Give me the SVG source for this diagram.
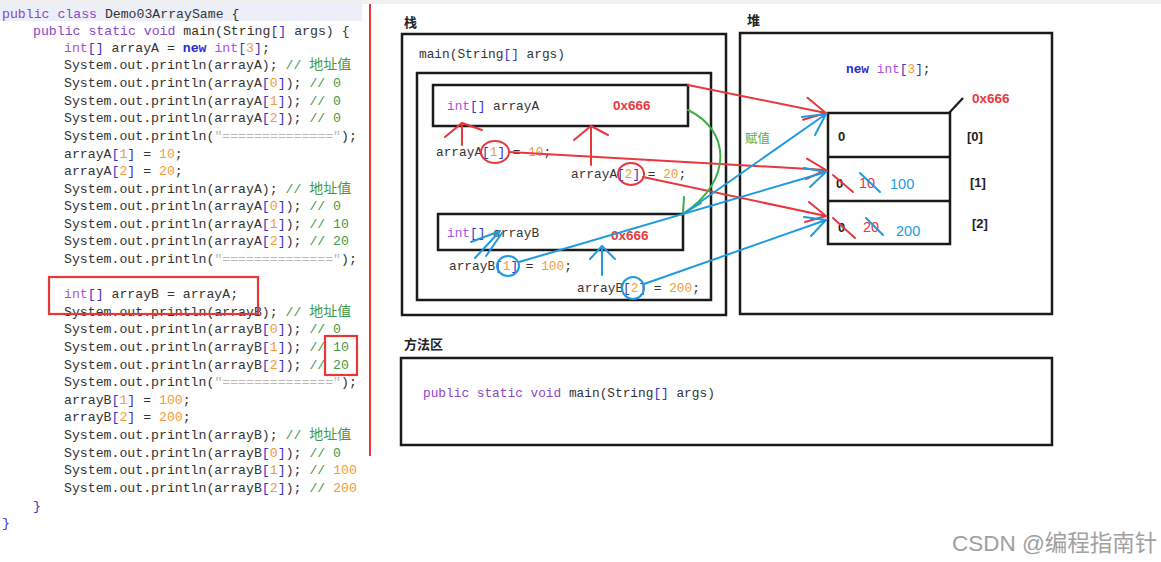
<svg xmlns="http://www.w3.org/2000/svg" width="1161" height="562" viewBox="0 0 1161 562">
<style>
.code{font-family:"Liberation Mono","DejaVu Sans Mono",monospace;font-size:13.2px;fill:#333;white-space:pre}
.dc{font-family:"Liberation Mono","DejaVu Sans Mono",monospace;font-size:12.8px;fill:#333;white-space:pre}
.kw{fill:#8b45c6}
.ty{fill:#a552e0}
.nw{fill:#2b2bd1;font-weight:bold}
.br{fill:#3535c0}
.num{fill:#f29b38}
.cm{fill:#3f9a48}
.str{fill:#b8b8b8}
.cjk{font-family:"Noto Sans CJK SC",sans-serif;font-size:14px}
.lbl{font-family:"Noto Sans CJK SC",sans-serif;font-size:13px;font-weight:bold;fill:#222}
.box{fill:none;stroke:#1a1a1a;stroke-width:2.5}
.addr{font-family:"Liberation Sans",Arial,sans-serif;font-size:13.5px;font-weight:bold;fill:#e8383d}
.val{font-family:"Liberation Sans",Arial,sans-serif;font-size:13px;font-weight:bold;fill:#222}
.blu{font-family:"Liberation Sans",Arial,sans-serif;font-size:14.5px;fill:#1e9be0}
.redt{font-family:"Liberation Sans",Arial,sans-serif;font-size:14.5px;fill:#e8383d}
.r{fill:none;stroke:#e8383d;stroke-width:2;stroke-linecap:round}
.b{fill:none;stroke:#1e9be0;stroke-width:2;stroke-linecap:round}
.g{fill:none;stroke:#3cb043;stroke-width:2;stroke-linecap:round}
</style>
<rect x="0" y="0" width="1161" height="562" fill="#ffffff"/>
<rect x="0" y="0" width="1161" height="4" fill="#f0f0f0"/>

<g id="code-panel">
<rect x="0" y="4" width="362" height="17" fill="#eceff8"/>
<line x1="370" y1="4" x2="370" y2="456" stroke="#e53935" stroke-width="2"/>
<text class="code" x="2" y="17.5"><tspan class="kw">public class</tspan> Demo03ArraySame {</text>
<text class="code" x="33" y="35"><tspan class="kw">public static void</tspan> main(String<tspan class="br">[]</tspan> args) {</text>
<text class="code" x="64" y="52"><tspan class="ty">int</tspan><tspan class="br">[]</tspan> arrayA = <tspan class="nw">new</tspan> <tspan class="ty">int</tspan><tspan class="br">[</tspan><tspan class="num">3</tspan><tspan class="br">]</tspan>;</text>
<text class="code" x="64" y="69">System.out.println(arrayA); <tspan class="cm">// <tspan class="cjk">地址值</tspan></tspan></text>
<text class="code" x="64" y="87">System.out.println(arrayA<tspan class="br">[</tspan><tspan class="num">0</tspan><tspan class="br">]</tspan>); <tspan class="cm">// 0</tspan></text>
<text class="code" x="64" y="105">System.out.println(arrayA<tspan class="br">[</tspan><tspan class="num">1</tspan><tspan class="br">]</tspan>); <tspan class="cm">// 0</tspan></text>
<text class="code" x="64" y="122">System.out.println(arrayA<tspan class="br">[</tspan><tspan class="num">2</tspan><tspan class="br">]</tspan>); <tspan class="cm">// 0</tspan></text>
<text class="code" x="64" y="140">System.out.println(<tspan class="str">"=============="</tspan>);</text>
<text class="code" x="64" y="158">arrayA<tspan class="br">[</tspan><tspan class="num">1</tspan><tspan class="br">]</tspan> = <tspan class="num">10</tspan>;</text>
<text class="code" x="64" y="175">arrayA<tspan class="br">[</tspan><tspan class="num">2</tspan><tspan class="br">]</tspan> = <tspan class="num">20</tspan>;</text>
<text class="code" x="64" y="193">System.out.println(arrayA); <tspan class="cm">// <tspan class="cjk">地址值</tspan></tspan></text>
<text class="code" x="64" y="210">System.out.println(arrayA<tspan class="br">[</tspan><tspan class="num">0</tspan><tspan class="br">]</tspan>); <tspan class="cm">// 0</tspan></text>
<text class="code" x="64" y="228">System.out.println(arrayA<tspan class="br">[</tspan><tspan class="num">1</tspan><tspan class="br">]</tspan>); <tspan class="cm">// 10</tspan></text>
<text class="code" x="64" y="245">System.out.println(arrayA<tspan class="br">[</tspan><tspan class="num">2</tspan><tspan class="br">]</tspan>); <tspan class="cm">// 20</tspan></text>
<text class="code" x="64" y="263">System.out.println(<tspan class="str">"=============="</tspan>);</text>
<text class="code" x="64" y="298"><tspan class="ty">int</tspan><tspan class="br">[]</tspan> arrayB = arrayA;</text>
<text class="code" x="64" y="316">System.out.println(arrayB); <tspan class="cm">// <tspan class="cjk">地址值</tspan></tspan></text>
<text class="code" x="64" y="333">System.out.println(arrayB<tspan class="br">[</tspan><tspan class="num">0</tspan><tspan class="br">]</tspan>); <tspan class="cm">// 0</tspan></text>
<text class="code" x="64" y="351">System.out.println(arrayB<tspan class="br">[</tspan><tspan class="num">1</tspan><tspan class="br">]</tspan>); <tspan class="cm">// 10</tspan></text>
<text class="code" x="64" y="369">System.out.println(arrayB<tspan class="br">[</tspan><tspan class="num">2</tspan><tspan class="br">]</tspan>); <tspan class="cm">// 20</tspan></text>
<text class="code" x="64" y="386">System.out.println(<tspan class="str">"=============="</tspan>);</text>
<text class="code" x="64" y="404">arrayB<tspan class="br">[</tspan><tspan class="num">1</tspan><tspan class="br">]</tspan> = <tspan class="num">100</tspan>;</text>
<text class="code" x="64" y="421">arrayB<tspan class="br">[</tspan><tspan class="num">2</tspan><tspan class="br">]</tspan> = <tspan class="num">200</tspan>;</text>
<text class="code" x="64" y="439">System.out.println(arrayB); <tspan class="cm">// <tspan class="cjk">地址值</tspan></tspan></text>
<text class="code" x="64" y="457">System.out.println(arrayB<tspan class="br">[</tspan><tspan class="num">0</tspan><tspan class="br">]</tspan>); <tspan class="cm">// 0</tspan></text>
<text class="code" x="64" y="474">System.out.println(arrayB<tspan class="br">[</tspan><tspan class="num">1</tspan><tspan class="br">]</tspan>); <tspan class="cm">// </tspan><tspan class="num">100</tspan></text>
<text class="code" x="64" y="492">System.out.println(arrayB<tspan class="br">[</tspan><tspan class="num">2</tspan><tspan class="br">]</tspan>); <tspan class="cm">// </tspan><tspan class="num">200</tspan></text>
<text class="code br" x="33" y="510">}</text>
<text class="code br" x="2" y="527">}</text>
<rect x="49" y="277" width="209" height="37" fill="none" stroke="#e53935" stroke-width="2.2"/>
<rect x="325" y="336" width="32" height="39" fill="none" stroke="#e53935" stroke-width="2.2"/>
</g>

<g id="stack">
<text class="lbl" x="404" y="27">栈</text>
<rect class="box" x="402" y="34" width="324" height="281"/>
<text class="dc" x="419" y="58">main(String<tspan class="br">[]</tspan> args)</text>
<rect class="box" x="417" y="73" width="294" height="227"/>
</g>

<g id="arrayA-var">
<rect class="box" x="433" y="85" width="255" height="41"/>
<text class="dc" x="447" y="110"><tspan class="ty">int</tspan><tspan class="br">[]</tspan> arrayA</text>
<text class="addr" x="613" y="110">0x666</text>
</g>

<g id="arrayB-var">
<rect class="box" x="438" y="214" width="245" height="36"/>
<text class="dc" x="447" y="237"><tspan class="ty">int</tspan><tspan class="br">[]</tspan> arrayB</text>
<text class="addr" x="611" y="240">0x666</text>
</g>

<g id="stack-statements">
<text class="dc" x="436" y="156">arrayA<tspan class="br">[</tspan><tspan class="num">1</tspan><tspan class="br">]</tspan> = <tspan class="num">10</tspan>;</text>
<text class="dc" x="571" y="178">arrayA<tspan class="br">[</tspan><tspan class="num">2</tspan><tspan class="br">]</tspan> = <tspan class="num">20</tspan>;</text>
<text class="dc" x="449" y="270">arrayB<tspan class="br">[</tspan><tspan class="num">1</tspan><tspan class="br">]</tspan> = <tspan class="num">100</tspan>;</text>
<text class="dc" x="577" y="292">arrayB<tspan class="br">[</tspan><tspan class="num">2</tspan><tspan class="br">]</tspan> = <tspan class="num">200</tspan>;</text>
</g>

<g id="heap">
<text class="lbl" x="747" y="25">堆</text>
<rect class="box" x="740" y="33" width="312" height="281"/>
<text class="dc" x="846" y="73"><tspan class="nw">new</tspan> <tspan class="ty">int</tspan><tspan class="br">[</tspan><tspan class="num">3</tspan><tspan class="br">]</tspan>;</text>
<text class="addr" x="972" y="103">0x666</text>
<line x1="949" y1="113" x2="963" y2="98" stroke="#1a1a1a" stroke-width="2.2"/>
<text x="745" y="143" font-family="'Noto Sans CJK SC',sans-serif" font-size="12.5px" fill="#4caf50">赋值</text>
</g>

<g id="heap-array">
<rect class="box" x="828" y="113" width="122" height="131"/>
<line x1="828" y1="157" x2="950" y2="157" stroke="#1a1a1a" stroke-width="2.5"/>
<line x1="828" y1="201" x2="950" y2="201" stroke="#1a1a1a" stroke-width="2.5"/>
<text class="val" x="838" y="141">0</text>
<text class="val" x="967" y="141">[0]</text>
<text class="val" x="970" y="187">[1]</text>
<text class="val" x="972" y="228">[2]</text>
<text class="val" x="836" y="188">0</text>
<text class="redt" x="859" y="188">10</text>
<text class="blu" x="890" y="189">100</text>
<text class="val" x="838" y="232">0</text>
<text class="redt" x="863" y="232">20</text>
<text class="blu" x="896" y="236">200</text>
</g>

<g id="method-area">
<text class="lbl" x="404" y="349">方法区</text>
<rect class="box" x="401" y="358" width="651" height="87"/>
<text class="dc" x="423" y="397"><tspan class="kw">public static void</tspan> main(String<tspan class="br">[]</tspan> args)</text>
</g>

<g id="connectors">
<path class="r" d="M688,85 L826,113 M807.5,97.7 L826,113 L803,119.8"/>
<ellipse class="r" cx="495" cy="152" rx="14" ry="11"/>
<path class="r" d="M509,152 L826,170 M807,158.6 L826,170 L806,179"/>
<ellipse class="r" cx="631" cy="174" rx="13" ry="11"/>
<path class="r" d="M643,177 L826,216 M809,202 L826,216 L805,222"/>
<path class="r" d="M462,145 L462,123 M445,137 L462,123 L482,130"/>
<path class="r" d="M591,165 L591,126 M574,140 L591,126 L608,135"/>
<path class="r" d="M833,175 L853,192 M833,218 L855,238"/>
<path class="g" d="M688,110 C730,130 734,180 683,214 M684,197 L683,214 L701,203"/>
<path class="b" d="M683,214 L826,114 M802,117 L826,114 L815,135"/>
<ellipse class="b" cx="508" cy="266" rx="11" ry="10"/>
<path class="b" d="M519,262 L826,172 M804,168 L826,172 L810,187"/>
<ellipse class="b" cx="633" cy="288" rx="11" ry="11"/>
<path class="b" d="M644,284 L826,220 M804,217 L826,220 L811,236"/>
<path class="b" d="M475,258 L500,231 M471,242 L500,231 M486,256 L502,233"/>
<path class="b" d="M602,275 L602,246 M590,259 L602,246 L615,259"/>
<path class="b" d="M860,173 L880,192 M866,218 L883,235"/>
</g>

<text x="952" y="551" font-family="'Liberation Sans','Noto Sans CJK SC',sans-serif" font-size="22.5px" fill="#a0a0a0">CSDN @编程指南针</text>
</svg>
